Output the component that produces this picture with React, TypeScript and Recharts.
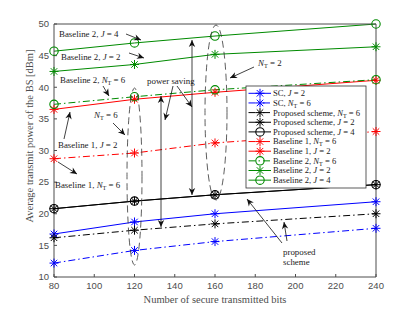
import React from 'react';
import { LineChart, Line, XAxis, YAxis } from 'recharts';

// number of secure transmitted bits
const xBits = [80, 120, 160, 240];

// average transmit power [dBm]
const scJ2 = [16.8, 18.7, 20.0, 21.9];
const scNt6 = [12.2, 14.2, 15.6, 17.7];
const propNt6 = [16.2, 17.4, 18.4, 20.0];
const propJ2 = [20.8, 22.0, 23.0, 24.6];
const propJ4 = [20.8, 22.0, 23.0, 24.6];
const base1Nt6 = [28.7, 29.6, 31.2, 33.0];
const base1J2 = [36.5, 38.1, 39.2, 41.1];
const base2Nt6 = [37.3, 38.5, 39.6, 41.2];
const base2J2 = [42.5, 43.6, 45.2, 46.4];
const base2J4 = [45.7, 47.0, 48.1, 50.0];

const xTicks = [80, 100, 120, 140, 160, 180, 200, 220, 240];
const yTicks = [10, 15, 20, 25, 30, 35, 40, 45, 50];

const BLUE = '#0000ff';
const RED = '#ff0000';
const GREEN = '#008a00';
const BLACK = '#000000';
const DASHDOT = '7 3 1.5 3';

type Marker = 'star' | 'circle';

const series = [
  { key: 'scJ2', values: scJ2, color: BLUE, dash: undefined, marker: 'star' as Marker, scheme: 'SC', param: 'J', val: 2 },
  { key: 'scNt6', values: scNt6, color: BLUE, dash: DASHDOT, marker: 'star' as Marker, scheme: 'SC', param: 'N', val: 6 },
  { key: 'propNt6', values: propNt6, color: BLACK, dash: DASHDOT, marker: 'star' as Marker, scheme: 'Proposed scheme', param: 'N', val: 6 },
  { key: 'propJ2', values: propJ2, color: BLACK, dash: undefined, marker: 'star' as Marker, scheme: 'Proposed scheme', param: 'J', val: 2 },
  { key: 'propJ4', values: propJ4, color: BLACK, dash: undefined, marker: 'circle' as Marker, scheme: 'Proposed scheme', param: 'J', val: 4 },
  { key: 'base1Nt6', values: base1Nt6, color: RED, dash: DASHDOT, marker: 'star' as Marker, scheme: 'Baseline 1', param: 'N', val: 6 },
  { key: 'base1J2', values: base1J2, color: RED, dash: undefined, marker: 'star' as Marker, scheme: 'Baseline 1', param: 'J', val: 2 },
  { key: 'base2Nt6', values: base2Nt6, color: GREEN, dash: DASHDOT, marker: 'circle' as Marker, scheme: 'Baseline 2', param: 'N', val: 6 },
  { key: 'base2J2', values: base2J2, color: GREEN, dash: undefined, marker: 'star' as Marker, scheme: 'Baseline 2', param: 'J', val: 2 },
  { key: 'base2J4', values: base2J4, color: GREEN, dash: undefined, marker: 'circle' as Marker, scheme: 'Baseline 2', param: 'J', val: 4 },
];

const data = xBits.map((x, i) => {
  const row: Record<string, number> = { x };
  series.forEach(s => { row[s.key] = s.values[i]; });
  return row;
});

const SERIF = '"Liberation Serif", "DejaVu Serif", serif';
const SANS = '"Liberation Sans", Arial, sans-serif';
const AXIS = '#4d4d4d';

const MarkerGlyph = ({ x, y, type, color }: { x: number; y: number; type: Marker; color: string }) => {
  if (type === 'circle') {
    return <circle cx={x} cy={y} r={4.2} fill="none" stroke={color} strokeWidth={1.1} />;
  }
  const r = 4.5;
  const d = r * 0.72;
  return (
    <g stroke={color} strokeWidth={1}>
      <line x1={x - r} y1={y} x2={x + r} y2={y} />
      <line x1={x} y1={y - r} x2={x} y2={y + r} />
      <line x1={x - d} y1={y - d} x2={x + d} y2={y + d} />
      <line x1={x - d} y1={y + d} x2={x + d} y2={y - d} />
    </g>
  );
};

const makeDot = (type: Marker, color: string) => (props: any) => (
  <MarkerGlyph key={`m-${props.index}`} x={props.cx} y={props.cy} type={type} color={color} />
);

// label like "Baseline 2, J = 4" or "Baseline 2, N_T = 6"
const Param = ({ param, val }: { param: string; val: number }) =>
  param === 'J' ? (
    <>
      <tspan fontStyle="italic">J</tspan>
      <tspan> = {val}</tspan>
    </>
  ) : (
    <>
      <tspan fontStyle="italic">N</tspan>
      <tspan fontSize="0.7em" dy={2}>T</tspan>
      <tspan dy={-2}> = {val}</tspan>
    </>
  );

const Note = ({ x, y, scheme, param, val }: { x: number; y: number; scheme?: string; param: string; val: number }) => (
  <text x={x} y={y} fontSize={8.9} fill="#222">
    {scheme ? <tspan>{scheme}, </tspan> : null}
    <Param param={param} val={val} />
  </text>
);

const Arrow = ({ x1, y1, x2, y2, both }: { x1: number; y1: number; x2: number; y2: number; both?: boolean }) => {
  const head = (tx: number, ty: number, fx: number, fy: number) => {
    const len = Math.hypot(tx - fx, ty - fy) || 1;
    const ux = (tx - fx) / len;
    const uy = (ty - fy) / len;
    const L = 7;
    const W = 3.2;
    const bx = tx - ux * L;
    const by = ty - uy * L;
    const nx = tx - ux * L * 0.7;
    const ny = ty - uy * L * 0.7;
    return `M${tx},${ty} L${bx - uy * W},${by + ux * W} L${nx},${ny} L${bx + uy * W},${by - ux * W} Z`;
  };
  return (
    <g>
      <line x1={x1} y1={y1} x2={x2} y2={y2} stroke="#111" strokeWidth={0.8} />
      <path d={head(x2, y2, x1, y1)} fill="#111" />
      {both ? <path d={head(x1, y1, x2, y2)} fill="#111" /> : null}
    </g>
  );
};

const Overlay = () => {
  const lx = 246;
  const ly = 86;
  const step = 9.65;
  return (
    <svg width={415} height={312} style={{ position: 'absolute', left: 0, top: 0, pointerEvents: 'none' }} fontFamily={SERIF}>
      {/* axis titles */}
      <text x={215} y={303} fontSize={10.5} fill={AXIS} textAnchor="middle">Number of secure transmitted bits</text>
      <text x={0} y={0} fontSize={10.5} fill={AXIS} textAnchor="middle" transform="translate(33,136) rotate(-90)">
        Average transmit power of the BS [dBm]
      </text>

      {/* ellipses */}
      <ellipse cx={134.5} cy={176.5} rx={7.5} ry={88.5} fill="none" stroke="#333" strokeWidth={0.8} strokeDasharray="7 4" />
      <ellipse cx={216} cy={112.5} rx={11} ry={87.5} fill="none" stroke="#333" strokeWidth={0.8} strokeDasharray="7 4" />

      {/* annotations */}
      <Note x={59} y={37} scheme="Baseline 2" param="J" val={4} />
      <Arrow x1={126} y1={34} x2={141} y2={40} />
      <Note x={61} y={60} scheme="Baseline 2" param="J" val={2} />
      <Arrow x1={129} y1={53} x2={144} y2={58} />
      <Note x={258} y={66} param="N" val={2} />
      <Arrow x1={254} y1={67} x2={230} y2={78} />
      <Note x={60} y={83} scheme="Baseline 2" param="N" val={6} />
      <Arrow x1={103} y1={86} x2={109} y2={96} />
      <text x={147} y={84} fontSize={8.9} fill="#222">power saving</text>
      <Arrow x1={173} y1={86} x2={165} y2={120} />
      <Arrow x1={177} y1={86} x2={192} y2={107} />
      <Note x={94} y={118} param="N" val={6} />
      <Arrow x1={113} y1={123} x2={125} y2={135} />
      <Arrow x1={64} y1={139} x2={70} y2={112} />
      <Note x={58} y={148} scheme="Baseline 1" param="J" val={2} />
      <Arrow x1={58} y1={162} x2={77} y2={174} />
      <Note x={55} y={188} scheme="Baseline 1" param="N" val={6} />
      <Arrow x1={161} y1={96} x2={161} y2={227} both />
      <Arrow x1={192} y1={40} x2={192} y2={195} both />
      <Arrow x1={282} y1={243} x2={247} y2={199} />
      <Arrow x1={287} y1={241} x2={284} y2={222} />
      <text x={283} y={255} fontSize={8.9} fill="#222">proposed</text>
      <text x={283} y={265} fontSize={8.9} fill="#222">scheme</text>

      {/* legend */}
      <rect x={lx} y={ly} width={120} height={102} fill="#fff" stroke="#333" strokeWidth={0.8} />
      {series.map((s, i) => {
        const cy = ly + 7.3 + i * step;
        return (
          <g key={s.key}>
            <line x1={lx + 2.5} y1={cy} x2={lx + 25} y2={cy} stroke={s.color} strokeWidth={1} strokeDasharray={s.dash} />
            <MarkerGlyph x={lx + 14} y={cy} type={s.marker} color={s.color} />
            <text x={lx + 27} y={cy + 2.9} fontSize={8.6} fill="#222">
              <tspan>{s.scheme}, </tspan>
              <Param param={s.param} val={s.val} />
            </text>
          </g>
        );
      })}
    </svg>
  );
};

export default function App() {
  return (
    <div style={{ position: 'absolute', left: 0, top: 0, width: 415, height: 312, background: '#fff' }}>
      <LineChart width={415} height={312} data={data} margin={{ top: 23, right: 38, bottom: 5, left: 24 }}>
        <XAxis
          dataKey="x"
          type="number"
          domain={[80, 240]}
          ticks={xTicks}
          height={30}
          tickSize={-3}
          tickMargin={8}
          stroke={AXIS}
          tick={{ fontSize: 9.5, fill: AXIS, fontFamily: SANS }}
        />
        <XAxis
          xAxisId="top"
          orientation="top"
          type="number"
          domain={[80, 240]}
          ticks={xTicks}
          height={1}
          tickSize={-3}
          tickFormatter={() => ''}
          stroke={AXIS}
        />
        <YAxis
          type="number"
          domain={[10, 50]}
          ticks={yTicks}
          width={30}
          tickSize={-3}
          tickMargin={8}
          stroke={AXIS}
          tick={{ fontSize: 9.5, fill: AXIS, fontFamily: SANS }}
        />
        <YAxis
          yAxisId="right"
          orientation="right"
          type="number"
          domain={[10, 50]}
          ticks={yTicks}
          width={1}
          tickSize={-3}
          tickFormatter={() => ''}
          stroke={AXIS}
        />
        {series.map(s => (
          <Line
            key={s.key}
            type="linear"
            dataKey={s.key}
            stroke={s.color}
            strokeWidth={1}
            strokeDasharray={s.dash}
            dot={makeDot(s.marker, s.color)}
            activeDot={false}
            isAnimationActive={false}
          />
        ))}
      </LineChart>
      <Overlay />
    </div>
  );
}
